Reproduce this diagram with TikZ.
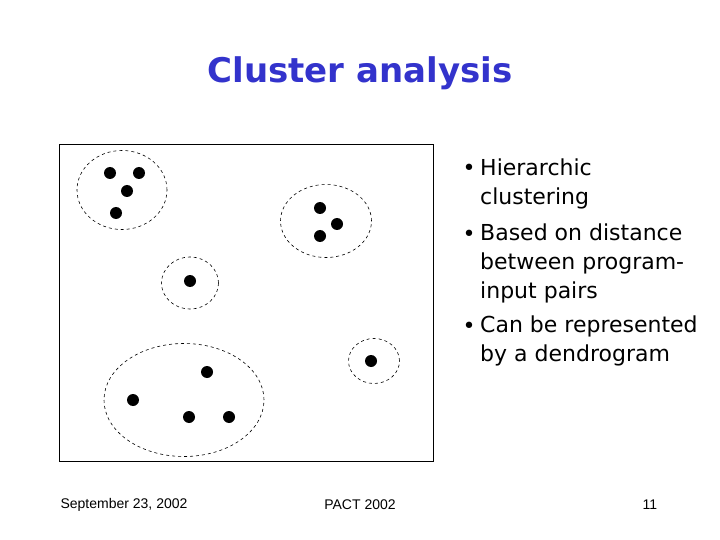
\documentclass[tikz,border=0pt]{standalone}
\usepackage{fontspec}
\usepackage{xcolor}
\usepackage{tikz}
\usetikzlibrary{shapes.geometric}
\setmainfont{DejaVu Sans}
\newfontfamily\footfont{Liberation Sans}
\definecolor{titleblue}{rgb}{0.2,0.2,0.8}

\begin{document}
\begin{tikzpicture}[x=1pt,y=-1pt]
    \useasboundingbox (0,0) rectangle (720,540);

    \tikzstyle{title}=[text=titleblue,font=\bfseries\fontsize{34}{40}\selectfont]
    \tikzstyle{item}=[anchor=north west,align=left,inner sep=0pt,font=\fontsize{22}{29}\selectfont]
    \tikzstyle{dot}=[anchor=base,inner sep=0pt,font=\fontsize{22}{29}\selectfont]
    \tikzstyle{foot}=[font=\footfont\fontsize{14}{16}\selectfont]
    \tikzstyle{pt}=[circle,fill=black,inner sep=0pt,minimum size=12pt]
    \tikzstyle{clus}=[ellipse,draw=black,dashed,line width=0.6pt,inner sep=0pt]

    \node[title] (tl) at (360,73) {Cluster analysis};

    % the box with the points
    \node[draw=black,line width=1pt,minimum width=374pt,minimum height=316pt,inner sep=0pt] (box) at (246,303) {};

    \node[clus,minimum width=90pt,minimum height=79pt] (c1) at (122,190) {};
    \node[pt] (p1) at (110,173) {};
    \node[pt] (p2) at (139,173) {};
    \node[pt] (p3) at (127,191) {};
    \node[pt] (p4) at (116,213) {};

    \node[clus,minimum width=57pt,minimum height=52pt] (c2) at (190,283) {};
    \node[pt] (p5) at (190,281) {};

    \node[clus,minimum width=91pt,minimum height=73pt] (c3) at (326,221) {};
    \node[pt] (p6) at (320,208) {};
    \node[pt] (p7) at (337,224) {};
    \node[pt] (p8) at (320,236) {};

    \node[clus,minimum width=160pt,minimum height=113pt] (c4) at (184,400) {};
    \node[pt] (p9) at (207,372) {};
    \node[pt] (p10) at (133,400) {};
    \node[pt] (p11) at (189,417) {};
    \node[pt] (p12) at (229,417) {};

    \node[clus,minimum width=51pt,minimum height=45pt] (c5) at (374,361) {};
    \node[pt] (p13) at (371,361) {};

    % bullets
    \node[item] (i1) at (480,159) {Hierarchic\\clustering};
    \node[dot] (b1) at (469,176) {\textbullet};
    \node[item] (i2) at (480,224) {Based on distance\\between program-\\input pairs};
    \node[dot] (b2) at (469,241) {\textbullet};
    \node[item] (i3) at (480,316) {Can be represented\\by a dendrogram};
    \node[dot] (b3) at (469,333) {\textbullet};

    \node[foot] (f1) at (124,505) {September 23, 2002};
    \node[foot] (f2) at (360,505) {PACT 2002};
    \node[foot] (f3) at (650,505) {11};

\end{tikzpicture}
\end{document}
